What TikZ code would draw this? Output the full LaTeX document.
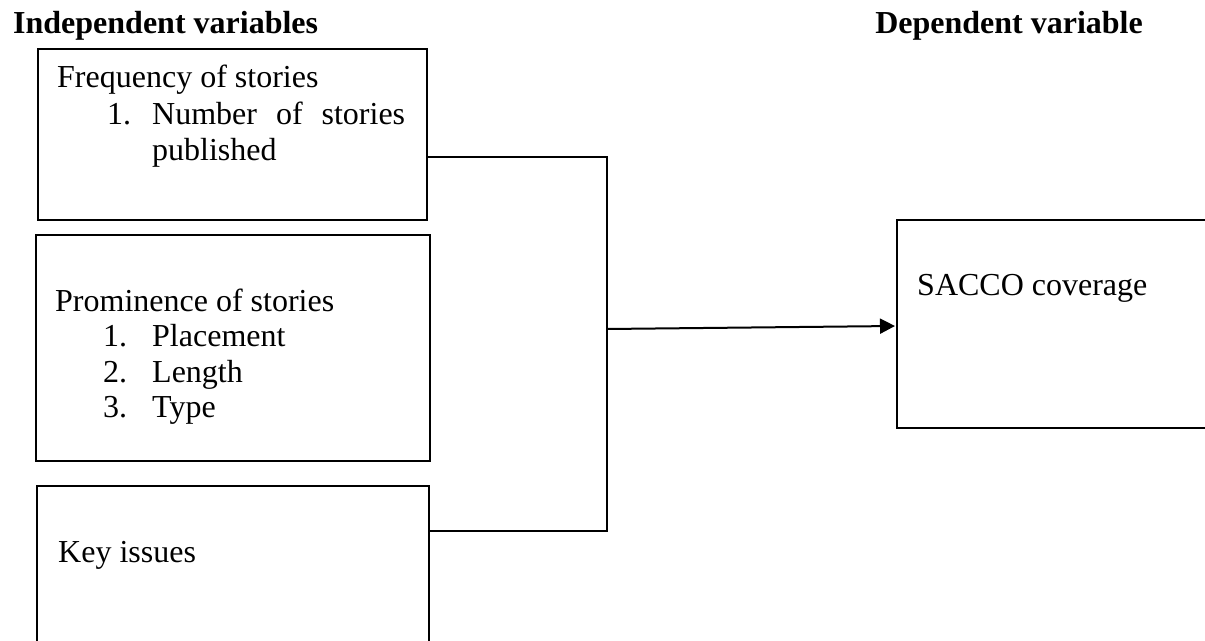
\documentclass[tikz,border=0pt]{standalone}
\usepackage{fontspec}
\setmainfont{Liberation Serif}
\usetikzlibrary{arrows.meta}
\begin{document}
\begin{tikzpicture}[x=1pt,y=-1pt,
  box/.style={draw=black,line width=1.8pt,inner sep=0pt,anchor=north west},
  txt/.style={inner sep=0pt,anchor=base west,font=\fontsize{32}{36}\selectfont},
  hdr/.style={inner sep=0pt,font=\fontsize{32}{36}\selectfont\bfseries},
  conn/.style={line width=2pt},
  arr/.style={line width=2pt,-{Triangle[length=15pt,width=15pt]}}]
\useasboundingbox (0,0) rectangle (1205,640);
\clip (0,0) rectangle (1205,640);
% headers
\node[hdr,anchor=base west] (h1) at (13,33) {Independent variables};
\node[hdr,anchor=base east] (h2) at (1143,33) {Dependent variable};
% boxes
\node[box,minimum width=389pt,minimum height=171pt] (b1) at (37,48) {};
\node[box,minimum width=394pt,minimum height=226pt] (b2) at (35,234) {};
\node[box,minimum width=392pt,minimum height=175pt] (b3) at (36,485) {};
\node[box,minimum width=320pt,minimum height=208pt] (b4) at (896,219) {};
% box texts
\node[txt] (t1) at (57,87) {Frequency of stories};
\node[txt] (t1a) at (107,124) {1.};
\node[txt] (t1b) at (152,124) {\makebox[253pt][s]{Number of stories}};
\node[txt] (t1c) at (152,160) {published};
\node[txt] (t2) at (55,311) {Prominence of stories};
\node[txt] (t2a) at (103,346) {1.};
\node[txt] (t2b) at (152,346) {Placement};
\node[txt] (t2c) at (103,382) {2.};
\node[txt] (t2d) at (152,382) {Length};
\node[txt] (t2e) at (103,417) {3.};
\node[txt] (t2f) at (152,417) {Type};
\node[txt] (t3) at (58,562) {Key issues};
\node[txt] (t4) at (917,295) {SACCO coverage};
% connectors
\coordinate (jt) at (607,157);
\coordinate (jb) at (607,531);
\coordinate (jm) at (607,329);
\coordinate (tip) at (895,326);
\draw[conn] (b1.east |- jt) -- (jt) -- (jb) -- (b3.east |- jb);
\draw[arr] (jm) -- (tip);
\end{tikzpicture}
\end{document}
